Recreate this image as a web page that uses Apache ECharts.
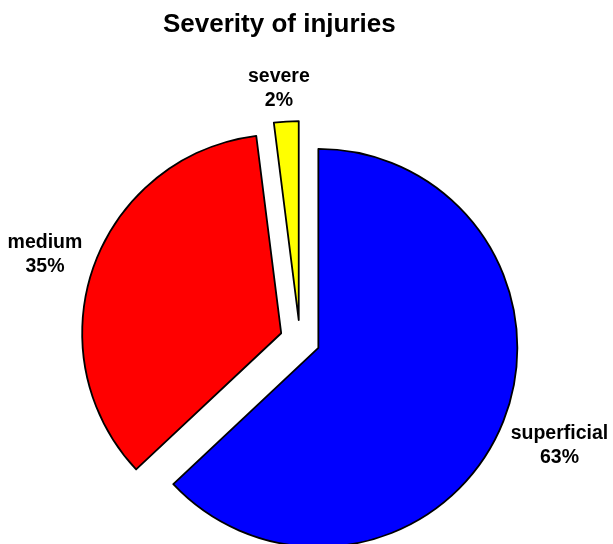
<!DOCTYPE html>
<html>
<head>
<meta charset="utf-8">
<title>Severity of injuries</title>
<script src="https://cdn.jsdelivr.net/npm/echarts@6/dist/echarts.min.js"></script>
<style>
  html, body { margin: 0; padding: 0; background: #ffffff; }
  #chart { width: 613px; height: 544px; }
</style>
</head>
<body>
<div id="chart"></div>
<script>
// Injury severity shares (percent)
const categories = ['superficial', 'medium', 'severe'];
const shares = [63, 35, 2];
const sliceColors = ['#0000ff', '#ff0000', '#ffff00'];

// Pie geometry
const CX = 300, CY = 340, R = 199;
const EXPLODE = 20;        // every slice is pulled out from the centre by this much
const LABEL_GAP = 7;       // space between the arc and the label box
const LABEL_TURN = -1.3;   // labels sit slightly counter-clockwise of the mid angle (degrees)
const FONT = 'Liberation Sans, Arial, sans-serif';

// Mid angle of each slice, measured clockwise from 12 o'clock
const total = shares.reduce((s, v) => s + v, 0);
const midAngles = [];
let acc = 0;
shares.forEach(v => {
  const span = v / total * Math.PI * 2;
  midAngles.push(acc + span / 2);
  acc += span;
});

// One pie per slice: all share the same values (so the angles agree),
// only the owned slice is painted, and its centre is pushed outwards
// along the slice's mid angle to explode it.
const series = categories.map((_, k) => {
  const a = midAngles[k];
  const dx = Math.sin(a), dy = -Math.cos(a);
  const cx = CX + dx * EXPLODE, cy = CY + dy * EXPLODE;
  const la = a + LABEL_TURN * Math.PI / 180;
  const lx = Math.sin(la), ly = -Math.cos(la);
  return {
    type: 'pie',
    center: [cx, cy],
    radius: [0, R],
    startAngle: 90,
    clockwise: true,
    silent: true,
    avoidLabelOverlap: false,
    label: {
      show: true,
      position: 'outside',
      formatter: '{b}\n{d}%',
      fontFamily: FONT,
      fontSize: 19.5,
      fontWeight: 'bold',
      lineHeight: 24,
      color: '#000000',
      align: 'center'
    },
    labelLine: { show: false },
    labelLayout: function (p) {
      const w = p.labelRect.width, h = p.labelRect.height;
      const d = R + LABEL_GAP + Math.abs(lx) * w / 2 + Math.abs(ly) * h / 2;
      return { x: cx + lx * d, y: cy + ly * d, align: 'center', verticalAlign: 'middle' };
    },
    data: categories.map((name, i) => ({
      name: name,
      value: shares[i],
      itemStyle: i === k
        ? { color: sliceColors[i], borderColor: '#000000', borderWidth: 1.8 }
        : { color: 'rgba(0,0,0,0)', borderWidth: 0 },
      label: { show: i === k }
    }))
  };
});

const chart = echarts.init(document.getElementById('chart'), null, { renderer: 'canvas' });

chart.setOption({
  animation: false,
  backgroundColor: '#ffffff',
  title: {
    text: 'Severity of injuries',
    left: 163,
    top: 12,
    padding: 0,
    textStyle: {
      fontFamily: FONT,
      fontSize: 26,
      fontWeight: 'bold',
      color: '#000000'
    }
  },
  series: series
});
</script>
</body>
</html>
